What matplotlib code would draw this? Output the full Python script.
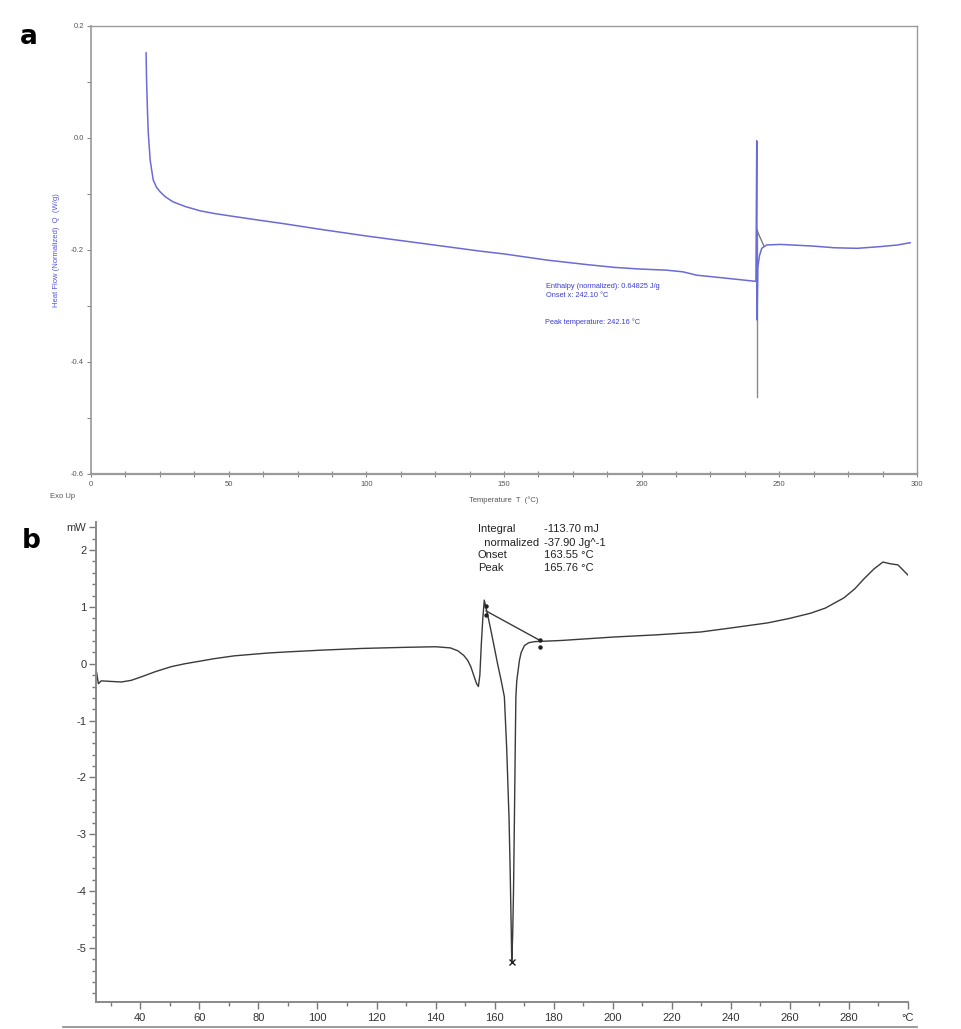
import matplotlib
matplotlib.use("Agg")
import matplotlib.pyplot as plt
from matplotlib.ticker import MultipleLocator, FixedLocator
from matplotlib.lines import Line2D

# ---------------- Panel a data ----------------
a_T = [20.0, 20.2, 20.5, 20.8, 21.5, 22.6, 23.8, 25.1, 27.0, 29.8, 34.0, 39.6, 45.0,
       51.7, 60.0, 70.0, 83.2, 100.0, 120.0, 141.3, 150.0, 165.6, 180.0, 190.0, 199.4,
       209.0, 215.0, 220.0, 230.0, 241.5, 241.8, 241.9, 242.2, 242.8, 243.6, 245.4,
       250.3, 262.3, 270.0, 278.2, 286.6, 293.0, 297.5]
a_Q = [0.152, 0.10, 0.05, 0.009, -0.04, -0.075, -0.088, -0.096, -0.105, -0.114, -0.122,
       -0.130, -0.135, -0.140, -0.146, -0.153, -0.163, -0.175, -0.188, -0.202, -0.207,
       -0.218, -0.226, -0.231, -0.234, -0.236, -0.239, -0.245, -0.250, -0.256, -0.005,
       -0.325, -0.230, -0.210, -0.197, -0.191, -0.190, -0.193, -0.196, -0.197, -0.194,
       -0.191, -0.187]
a_base_T = [241.8, 244.4]
a_base_Q = [-0.164, -0.193]
a_peak_T = 241.9
a_peak_Q = [-0.164, -0.462]
a_xticks = [0, 50, 100, 150, 200, 250, 300]
a_yticks = [-0.6, -0.4, -0.2, 0.0, 0.2]
a_ytick_labels = ["-0.6", "-0.4", "-0.2", "0.0", "0.2"]
a_notes = ["Enthalpy (normalized): 0.64825 J/g", "Onset x: 242.10 °C", "Peak temperature: 242.16 °C"]

# ---------------- Panel b data ----------------
b_T = [25.2, 25.8, 26.8, 30.0, 33.6, 37.0, 40.3, 45.0, 50.5, 55.0, 60.6, 65.0, 71.8,
       83.3, 90.0, 101.3, 115.0, 130.0, 140.0, 145.0, 147.5, 149.5, 150.9, 152.0, 153.1,
       153.9, 154.5, 155.0, 155.5, 156.0, 156.5, 157.0, 157.6, 158.7, 159.9, 161.0,
       162.2, 163.3, 164.1, 164.9, 165.3, 165.6, 165.8, 166.1, 166.4, 166.7, 167.0,
       167.2, 167.5, 168.0, 168.4, 169.0, 170.1, 171.5, 173.5, 182.5, 200.0, 215.0,
       229.8, 240.0, 252.5, 260.0, 267.0, 272.0, 278.3, 282.0, 285.0, 288.5, 291.5,
       294.0, 296.6, 300.0]
b_P = [-0.15, -0.35, -0.30, -0.31, -0.32, -0.29, -0.23, -0.14, -0.05, 0.00, 0.05, 0.09,
       0.14, 0.19, 0.21, 0.24, 0.27, 0.29, 0.30, 0.28, 0.23, 0.15, 0.06, -0.06, -0.23,
       -0.35, -0.40, -0.20, 0.35, 0.80, 1.12, 1.00, 0.87, 0.60, 0.29, 0.00, -0.29,
       -0.58, -1.50, -2.75, -3.73, -4.60, -5.25, -4.80, -4.00, -2.75, -1.40, -0.58,
       -0.30, -0.10, 0.06, 0.20, 0.32, 0.37, 0.39, 0.41, 0.47, 0.51, 0.56, 0.63, 0.72,
       0.80, 0.89, 0.98, 1.16, 1.32, 1.49, 1.67, 1.79, 1.76, 1.74, 1.56]
b_base_T = [157.1, 175.4]
b_base_P = [0.93, 0.41]
b_mark_T = [157.1, 157.1, 175.4, 175.4]
b_mark_P = [1.02, 0.85, 0.42, 0.29]
b_min_T = 165.8
b_min_P = -5.25
b_xticks = [40, 60, 80, 100, 120, 140, 160, 180, 200, 220, 240, 260, 280, 300]
b_xtick_labels = ["40", "60", "80", "100", "120", "140", "160", "180", "200", "220",
                  "240", "260", "280", "°C"]
b_yticks = [-5, -4, -3, -2, -1, 0, 1, 2, 2.4]
b_ytick_labels = ["-5", "-4", "-3", "-2", "-1", "0", "1", "2", "mW"]
b_note_keys = ["Integral", "  normalized", "Onset", "Peak"]
b_note_vals = ["-113.70 mJ", "-37.90 Jg^-1", "163.55 °C", "165.76 °C"]

W, H = 962, 1029
fig = plt.figure(figsize=(W / 100, H / 100), dpi=100)
plt.rcParams['font.family'] = ['Liberation Sans', 'DejaVu Sans']

def fx(px):
    return px / W

def fy(py):
    return 1 - py / H

# ---------------- Panel a ----------------
axa = fig.add_axes([fx(91), fy(474), fx(917) - fx(91), fy(26) - fy(474)])
blue = "#6a6ad8"
axa.plot([a_peak_T, a_peak_T], a_peak_Q, color="#8a8a8a", lw=1.0, zorder=1)
axa.plot(a_base_T, a_base_Q, color="#707070", lw=0.9, zorder=1)
axa.plot(a_T, a_Q, color=blue, lw=1.1, zorder=2)
axa.set_xlim(0, 300)
axa.set_ylim(-0.6, 0.2)
axa.xaxis.set_major_locator(FixedLocator(a_xticks))
axa.xaxis.set_minor_locator(MultipleLocator(12.5))
axa.yaxis.set_major_locator(FixedLocator(a_yticks))
axa.set_yticklabels(a_ytick_labels)
axa.yaxis.set_minor_locator(MultipleLocator(0.1))
for s in axa.spines.values():
    s.set_color("#9a9a9a")
    s.set_linewidth(1.0)
axa.spines['left'].set_linewidth(1.2)
axa.spines['bottom'].set_linewidth(1.6)
axa.tick_params(axis='both', which='both', colors="#888888", labelcolor="#555555",
                labelsize=5.5, width=0.8)
axa.tick_params(axis='x', which='both', direction='inout', length=4, pad=3)
axa.tick_params(axis='y', which='both', direction='out', length=3, pad=2)
axa.set_ylabel("Heat Flow (Normalized)  Q  (W/g)", color="#5555dd", fontsize=5.5, labelpad=10)
axa.yaxis.set_label_coords(-0.038, 0.50)
axa.set_xlabel("Temperature  T  (°C)", color="#555555", fontsize=5.5, labelpad=6)
fig.text(fx(50), fy(497), "Exo Up", fontsize=5.5, color="#555555", va="center", ha="left")
note_c = "#3c3cd0"
axa.text(165.3, -0.2655, a_notes[0], fontsize=5.3, color=note_c, va="center")
axa.text(165.3, -0.282, a_notes[1], fontsize=5.3, color=note_c, va="center")
axa.text(164.9, -0.329, a_notes[2], fontsize=5.3, color=note_c, va="center")
fig.text(fx(20), fy(37), "a", fontsize=19, fontweight="bold", family="DejaVu Sans",
         va="center", ha="left")

# ---------------- Panel b ----------------
axb = fig.add_axes([fx(96), fy(1002), fx(908) - fx(96), fy(521.7) - fy(1002)])
dark = "#3a3a3a"
axb.plot(b_T, b_P, color=dark, lw=1.0)
axb.plot(b_base_T, b_base_P, color=dark, lw=1.0)
axb.plot(b_mark_T, b_mark_P, linestyle="none", marker="o", ms=2.2, color="#222222")
axb.plot([b_min_T], [b_min_P], linestyle="none", marker="x", ms=5, mew=1.0, color="#222222")
axb.set_xlim(25, 300)
axb.set_ylim(-5.95, 2.5)
axb.xaxis.set_major_locator(FixedLocator(b_xticks))
axb.set_xticklabels(b_xtick_labels)
axb.xaxis.set_minor_locator(MultipleLocator(10))
axb.yaxis.set_major_locator(FixedLocator(b_yticks))
axb.set_yticklabels(b_ytick_labels)
axb.yaxis.set_minor_locator(MultipleLocator(0.2))
for k in ['top', 'right']:
    axb.spines[k].set_visible(False)
for k in ['left', 'bottom']:
    axb.spines[k].set_color("#8a8a8a")
    axb.spines[k].set_linewidth(1.4)
axb.tick_params(axis='both', which='both', colors="#777777", labelcolor="#333333",
                labelsize=8, width=1.0)
axb.tick_params(axis='both', which='major', length=5)
axb.tick_params(axis='both', which='minor', length=3)
axb.tick_params(axis='x', which='both', direction='out', pad=3)
axb.tick_params(axis='y', which='both', direction='out', pad=2)

kx, nx, vx = 154.3, 156.3, 176.6
ys = [2.38, 2.13, 1.91, 1.68]
for i in range(4):
    axb.text(kx, ys[i], b_note_keys[i], fontsize=8, color="#222222", va="center", ha="left")
    axb.text(vx, ys[i], b_note_vals[i], fontsize=8, color="#222222", va="center", ha="left")
fig.text(fx(22), fy(541), "b", fontsize=19, fontweight="bold", family="DejaVu Sans",
         va="center", ha="left")

fig.add_artist(Line2D([fx(63), fx(917)], [fy(1027), fy(1027)], color="#8a8a8a", lw=1.2))

fig.savefig("out.png", dpi=100)
